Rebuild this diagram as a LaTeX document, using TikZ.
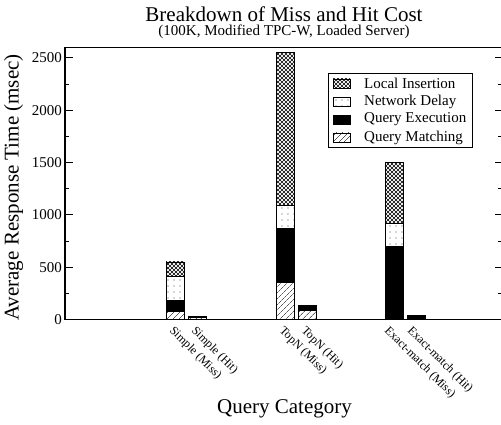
\documentclass[tikz,border=0pt]{standalone}
\usepackage{fontspec}
\setmainfont{Liberation Serif}
\usetikzlibrary{patterns, patterns.meta}

% fill patterns for the stacked bars
\tikzdeclarepattern{
  name=diamonds,
  type=uncolored,
  bottom left={(-.5pt,-.5pt)},
  top right={(4.5pt,4.5pt)},
  tile size={(4pt,4pt)},
  code={
    \draw[line width=.55pt] (0pt,0pt) -- (4pt,4pt) (0pt,4pt) -- (4pt,0pt);
  }
}
\tikzdeclarepattern{
  name=sparse dots,
  type=uncolored,
  bottom left={(-1pt,-1pt)},
  top right={(1pt,1pt)},
  tile size={(6pt,6pt)},
  code={
    \fill (0pt,0pt) circle (.6pt);
  }
}

\begin{document}
\begin{tikzpicture}[
    x=1pt, y=1pt,
    seg/.style={draw, line width=0.7pt},
    insert/.style={seg, pattern=diamonds},
    delay/.style={seg, pattern=sparse dots, pattern color=black!70},
    exec/.style={seg, fill=black},
    match/.style={seg, pattern={Lines[angle=45,distance=4pt,line width=0.45pt]}},
    axisline/.style={line width=1.1pt},
    ticklbl/.style={font=\fontsize{15}{15}\selectfont, anchor=east, inner sep=0pt},
    barlbl/.style={font=\fontsize{12}{12}\selectfont, rotate=-45, anchor=north west, inner sep=0pt},
    legtxt/.style={font=\fontsize{15}{15}\selectfont, anchor=west, inner sep=0pt}
]

\useasboundingbox (0,0) rectangle (501,424);

% Plot frame (axis at y=104.5pt, top at 376.5pt)
\def\xL{65}
\def\xR{501}
\def\yB{104.5}
\def\yT{376.5}
\draw[axisline] (\xL,\yB) -- (\xL,\yT) -- (\xR,\yT);
\draw[axisline] (\xL,\yB) -- (\xR,\yB);

% Title
\node[font=\fontsize{21}{21}\selectfont, anchor=base] (title) at (284,402) {Breakdown of Miss and Hit Cost};
\node[font=\fontsize{15}{15}\selectfont, anchor=base] (subtitle) at (284,388.5) {(100K, Modified TPC-W, Loaded Server)};

% Axis labels
\node[font=\fontsize{21}{21}\selectfont, rotate=90] (ylabel) at (13.5,\yB+132) {Average Response Time (msec)};
\node[font=\fontsize{21}{21}\selectfont, anchor=base] (xlabel) at (284.5,11) {Query Category};

% Data area: y measured in msec
\begin{scope}[shift={(0,\yB)}, y=0.1047pt]

% Ticks and tick labels
\foreach \v in {0,500,...,2500} {
    \draw[line width=0.8pt] (\xL,\v) -- ++(8,0);
    \draw[line width=0.8pt] (\xR,\v) -- ++(-6,0);
    \node[ticklbl] (yt\v) at (62,\v) {\v};
}
\foreach \v in {250,750,...,2250} {
    \draw[line width=0.6pt] (\xL,\v) -- ++(4,0);
    \draw[line width=0.6pt] (\xR,\v) -- ++(-3,0);
}

% Simple
\draw[match]  (166,0)   rectangle (184,80);
\draw[exec]   (166,80)  rectangle (184,180);
\draw[delay]  (166,180) rectangle (184,415);
\draw[insert] (166,415) rectangle (184,550);
\draw[match]  (188,0)   rectangle (206,24);
\draw[exec]   (188,24)  rectangle (206,34);

% TopN
\draw[match]  (276,0)    rectangle (294,355);
\draw[exec]   (276,355)  rectangle (294,871);
\draw[delay]  (276,871)  rectangle (294,1094);
\draw[insert] (276,1094) rectangle (294,2552);
\draw[match]  (298,0)    rectangle (316,91);
\draw[exec]   (298,91)   rectangle (316,132);

% Exact-match
\draw[exec]   (385,0)   rectangle (403,700);
\draw[delay]  (385,700) rectangle (403,920);
\draw[insert] (385,920) rectangle (403,1500);
\draw[exec]   (407,0)   rectangle (425,40);

\end{scope}

% Category labels under the axis
\node[barlbl] (lblsm) at (175,99) {Simple (Miss)};
\node[barlbl] (lblsh) at (197,99) {Simple (Hit)};
\node[barlbl] (lbltm) at (285,99) {TopN (Miss)};
\node[barlbl] (lblth) at (307,99) {TopN (Hit)};
\node[barlbl] (lblem) at (390,99) {Exact-match (Miss)};
\node[barlbl] (lbleh) at (413,99) {Exact-match (Hit)};

% Legend
\draw[line width=0.8pt] (328,276.3) rectangle (472,350.7);
\draw[insert] (333,336)   rectangle (350,345);
\draw[delay]  (333,318)   rectangle (350,327);
\draw[exec]   (333,300)   rectangle (350,309);
\draw[match]  (333,282)   rectangle (350,291);
\node[legtxt] (leg1) at (364,340.5) {Local Insertion};
\node[legtxt] (leg2) at (364,322.5) {Network Delay};
\node[legtxt] (leg3) at (364,304.5) {Query Execution};
\node[legtxt] (leg4) at (364,286.5) {Query Matching};

\end{tikzpicture}
\end{document}
